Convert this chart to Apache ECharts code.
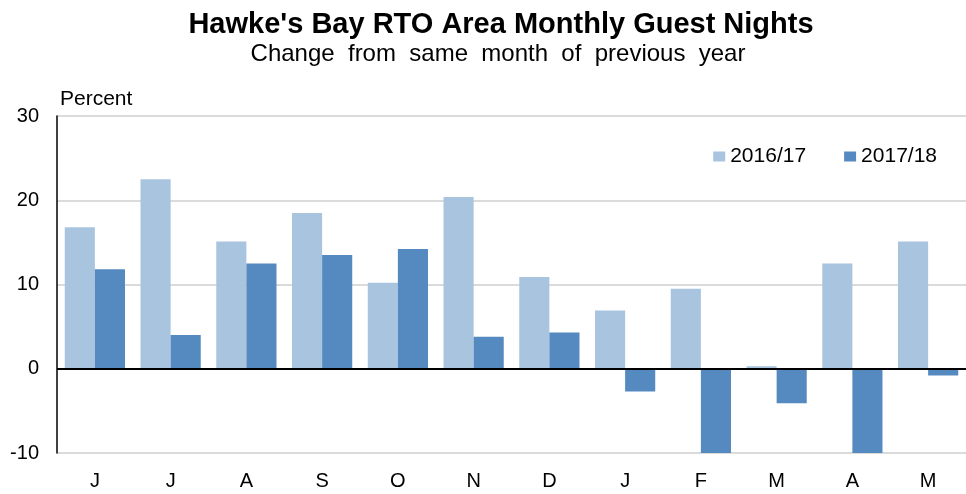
<!DOCTYPE html>
<html><head><meta charset="utf-8">
<script src="https://cdn.jsdelivr.net/npm/echarts@6/dist/echarts.min.js"></script>
<style>html,body{margin:0;padding:0;background:#fff}#c{width:966px;height:494px}</style>
</head><body><div id="c"></div>
<script>
const categories = ['J','J','A','S','O','N','D','J','F','M','A','M'];
const series1617 = [16.8, 22.5, 15.1, 18.5, 10.2, 20.4, 10.9, 6.9, 9.5, 0.3, 12.5, 15.1];
const series1718 = [11.8, 4.0, 12.5, 13.5, 14.2, 3.8, 4.3, -2.7, -10.3, -4.1, -10.3, -0.8];
const yTicks = [-10, 0, 10, 20, 30];

const chart = echarts.init(document.getElementById('c'));
const font = 'Arial, "Liberation Sans", sans-serif';
chart.setOption({
  animation: false,
  title: [
    {text: "Hawke's Bay RTO Area Monthly Guest Nights", left: 496, top: 5, textAlign: 'center',
     textStyle: {fontFamily: font, fontSize: 29, fontWeight: 'bold', color: '#000'}},
    {text: 'Change  from  same  month  of  previous  year', left: 493, top: 37, textAlign: 'center',
     textStyle: {fontFamily: font, fontSize: 24, fontWeight: 'normal', color: '#000'}}
  ],
  legend: {
    right: 24, top: 141, itemWidth: 12, itemHeight: 10, itemGap: 38, icon: 'rect',
    textStyle: {fontFamily: font, fontSize: 21, color: '#000'},
    data: ['2016/17', '2017/18']
  },
  grid: {left: 57, right: 0, top: 116, bottom: 41},
  xAxis: {
    type: 'category', data: categories,
    axisLine: {show: false}, axisTick: {show: false},
    axisLabel: {fontFamily: font, fontSize: 20, color: '#000', margin: 18}
  },
  yAxis: {
    type: 'value', min: yTicks[0], max: yTicks[yTicks.length-1], interval: 10,
    name: 'Percent', nameLocation: 'end', nameGap: 6,
    nameTextStyle: {fontFamily: font, fontSize: 21, color: '#000', align: 'left', padding: [0,0,0,3]},
    axisLine: {show: true, lineStyle: {color: '#000', width: 1.5}},
    axisTick: {show: false},
    axisLabel: {fontFamily: font, fontSize: 20, color: '#000', margin: 18},
    splitLine: {lineStyle: {color: '#cfcfcf', width: 1.5}}
  },
  series: [
    {name: '2016/17', type: 'bar', data: series1617, barGap: '0%', barCategoryGap: '20.5%', clip: true,
     itemStyle: {color: '#A9C4DF'},
     markLine: {silent: true, symbol: 'none', label: {show: false},
       lineStyle: {color: '#000', width: 1.8, type: 'solid'}, data: [{yAxis: 0}]}},
    {name: '2017/18', type: 'bar', data: series1718, clip: true,
     itemStyle: {color: '#548ABF'}}
  ]
});
</script></body></html>
